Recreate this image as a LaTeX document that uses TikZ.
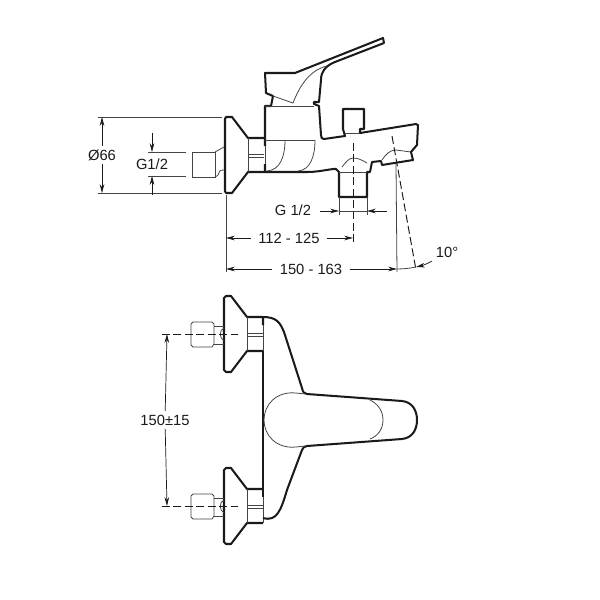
\documentclass[tikz,border=0pt]{standalone}
\usepackage{fontspec}
\setmainfont{Liberation Sans}
\usetikzlibrary{arrows.meta}
\definecolor{inkdark}{HTML}{1A1A1A}
\definecolor{inkthin}{HTML}{444444}

\begin{document}
\begin{tikzpicture}[x=0.02cm, y=-0.02cm]
  \tikzstyle{o} = [color=inkdark, line width=1.15pt, line join=round];
  \tikzstyle{t} = [color=inkthin, line width=0.45pt];
  \tikzstyle{c} = [color=inkdark, line width=0.55pt, dash pattern=on 4.5pt off 2pt];
  \tikzstyle{d} = [color=inkdark, line width=0.4pt, -{Stealth[length=5pt,width=2.6pt]}];
  \tikzstyle{l} = [color=inkdark, font=\fontsize{8.4pt}{10pt}\selectfont, inner sep=2pt];

  \useasboundingbox (0,0) rectangle (600,600);

  % side view
  \draw[o] (265,172) -- (248,172) -- (232,193) -- (226,193) -- (225,191) -- (225,119)
    -- (226,117) -- (232,117) -- (248,138) -- (265,138);
  \draw[t] (248,138) -- (248,172);
  \draw[t] (192,152) rectangle (215,177);
  \draw[t] (215,152) -- (224,147) (215,177) .. controls (222,174) and (216,170) .. (224,170);
  \draw[t] (248,154) -- (264,154) (248,157) -- (264,157);

  \draw[o] (265,146) -- (265,106) -- (271,106) -- (273,96) -- (266,93) -- (265,73) -- (295,73)
    -- (383,38) -- (384,43) -- (335,62) .. controls (325,66) and (321,72) .. (321,80)
    -- (319,102) -- (314,102) -- (314,104) -- (319,106) -- (321,135)
    .. controls (321,138) and (322,139) .. (324,139) -- (345,136) -- (343,129) -- (343,109)
    -- (364,109) -- (364,129) -- (360,129) -- (360,133) -- (416,124) -- (418,125) -- (417,145)
    -- (411,152) -- (413,160) -- (382,165) -- (381,161) -- (372,162) -- (370,172) -- (367,172)
    -- (367,197) -- (339,197) -- (339,172) -- (336,169) -- (333,169)
    .. controls (320,171) and (315,172) .. (307,172) -- (265,172) -- (265,164);
  \draw[t] (265,146) -- (265,164);
  \draw[t] (273,96) -- (293,103) .. controls (300,85) and (310,70) .. (327,66);
  \draw[t] (265,106) -- (314,106) (265,140) -- (315,140) (345,133) -- (360,133);
  \draw[t] (285,140) .. controls (285,157) and (280,170) .. (267,171);
  \draw[t] (315,140) .. controls (315,157) and (310,170) .. (298,171);
  \draw[t] (339,172) -- (367,172);
  \draw[t] (342,167) .. controls (346,162) and (349,158) .. (353,158) .. controls (358,158) and (362,160) .. (367,163);
  \draw[t] (382,160) .. controls (386,154) and (390,150) .. (396,150) -- (411,152);

  \draw[c] (353,143) -- (353,242);
  \draw[c] (392,136) -- (416,270);
  \draw[t] (396,163) -- (397,272);
  \draw[t] (226,195) -- (226,272);

  % side view dimensions
  \draw[t] (98,117) -- (222,117) (98,193) -- (222,193);
  \draw[t] (148,152) -- (186,152) (148,176) -- (186,176);
  \draw[t] (339,197) -- (339,215) (367,197) -- (367,215);

  \coordinate (d66a) at (102,117);
  \coordinate (d66b) at (102,193);
  \coordinate (g12a) at (152,133);
  \coordinate (g12b) at (152,152);
  \coordinate (g12c) at (152,195);
  \coordinate (g12d) at (152,176);
  \coordinate (g34a) at (320,211);
  \coordinate (g34b) at (339,211);
  \coordinate (g34c) at (387,211);
  \coordinate (g34d) at (367,211);
  \coordinate (m1a) at (226,238);
  \coordinate (m1b) at (353,238);
  \coordinate (m2a) at (226,269);
  \coordinate (m2b) at (397,269);
  \coordinate (ang) at (416,267);

  \node[l] (d66) at (102,155) {Ø66};
  \node[l] (g12) at (152,164) {G1/2};
  \node[l] (g34) at (293,210) {G 1/2};
  \node[l, inner xsep=4pt] (m1) at (289,238) {112 - 125};
  \node[l, inner xsep=4pt] (m2) at (311,269) {150 - 163};
  \node[l] (deg) at (447,252) {10°};

  \draw[d] (d66) -- (d66a);
  \draw[d] (d66) -- (d66b);
  \draw[d] (g12a) -- (g12b);
  \draw[d] (g12c) -- (g12d);
  \draw[d] (g34a) -- (g34b);
  \draw[d] (g34c) -- (g34d);
  \draw[t] (g34b) -- (g34d);
  \draw[d] (m1) -- (m1a);
  \draw[d] (m1) -- (m1b);
  \draw[d] (m2) -- (m2a);
  \draw[d] (m2) -- (m2b);
  \draw[d] (deg.south west) to[bend left=8] (ang);
  \draw[t] (m2b) to[bend right=5] (ang);

  % top view
  \foreach \yc in {334,506} {
    \begin{scope}[yshift=-\yc*0.02cm]
      \draw[o] (263,17) -- (247,17) -- (231,38) -- (226,38) -- (224,36) -- (224,-36)
        -- (226,-38) -- (231,-38) -- (247,-17) -- (263,-17);
      \draw[t] (247,-17) -- (247,17) (263,-17) -- (263,17);
      \draw[t] (193,-12) -- (212,-12) -- (214,-10) -- (214,10) -- (212,13) -- (193,13)
        -- (191,11) -- (191,-10) -- cycle;
      \draw[t] (214,-8) -- (224,-8) (214,10) -- (224,10);
      \draw[t] (224,-6) .. controls (219,-4) and (219,4) .. (224,7);
      \draw[t] (247,-1) -- (263,-1) (247,2) -- (263,2);
      \draw[c] (162,0) -- (239,0);
    \end{scope}
  }

  \draw[o] (263,325) -- (263,317) .. controls (276,317) and (280,322) .. (284,332) -- (302,388)
    .. controls (303,392) and (304,394) .. (307,394) -- (402,401)
    .. controls (412,402) and (417,410) .. (417,420) .. controls (417,430) and (412,438) .. (402,439)
    -- (307,446) .. controls (304,446) and (303,448) .. (302,450) -- (287,490)
    .. controls (281,510) and (277,522) .. (263,518);
  \draw[o] (263,351) -- (263,497);
  \draw[t] (370,400) .. controls (378,404) and (383,411) .. (383,420)
    .. controls (383,429) and (378,436) .. (370,439);
  \draw[t] (305,394) -- (296,393) .. controls (276,391) and (264,405) .. (264,420)
    .. controls (264,435) and (276,449) .. (296,447) -- (305,446);

  \coordinate (v1) at (167,334);
  \coordinate (v2) at (167,506);
  \node[l] (h150) at (165,420) {150±15};
  \draw[d] (h150) -- (v1);
  \draw[d] (h150) -- (v2);
\end{tikzpicture}
\end{document}
